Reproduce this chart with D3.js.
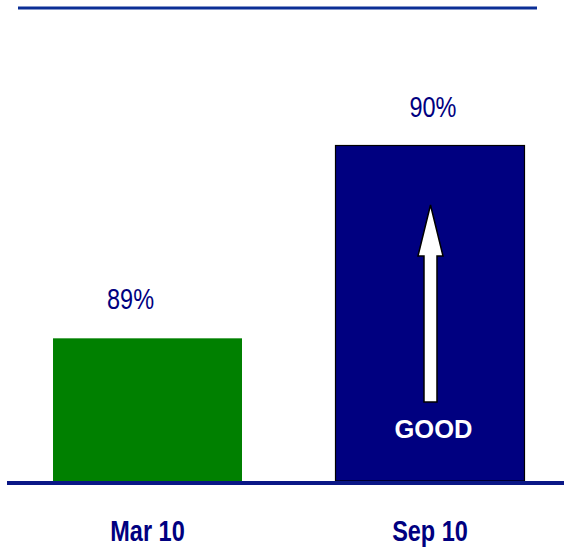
<!DOCTYPE html>
<html>
<head>
<meta charset="utf-8">
<script src="https://cdn.jsdelivr.net/npm/d3@7"></script>
<style>
  body { margin: 0; background: #fff; }
  svg { display: block; }
</style>
</head>
<body>
<div id="chart"></div>
<script>
// chart data
var categories = ['Mar 10', 'Sep 10'];
var values = [89, 90];
var value_labels = ['89%', '90%'];
var bar_colors = ['#008000', '#000080'];

const width = 564;
const height = 547;
const baseline_y = 481;
const navy = '#000080';
const label_shift = [-17, 3];
const narrow = 0.81; // no Arial Narrow here, squeeze Liberation Sans instead

var svg = d3.select('#chart').append('svg')
  .attr('width', width)
  .attr('height', height);

var x = d3.scaleBand()
  .domain(categories)
  .range([6.4, 571.1])
  .paddingInner(0.331)
  .paddingOuter(0.165);

var y = d3.scaleLinear()
  .domain([88.26, 90.5])
  .range([baseline_y, 49.1]);

// top rule
svg.append('line')
  .attr('x1', 18).attr('x2', 537)
  .attr('y1', 8).attr('y2', 8)
  .attr('stroke', '#0b2e96')
  .attr('stroke-width', 3);

// bars
svg.selectAll('rect.bar')
  .data(categories)
  .enter()
  .append('rect')
  .attr('class', 'bar')
  .attr('x', function(d) { return x(d); })
  .attr('y', function(d, i) { return y(values[i]); })
  .attr('width', x.bandwidth())
  .attr('height', function(d, i) { return baseline_y - y(values[i]); })
  .attr('fill', function(d, i) { return bar_colors[i]; })
  .attr('stroke', function(d, i) { return i == 1 ? '#000' : 'none'; })
  .attr('stroke-width', 1.2);

// baseline
svg.append('line')
  .attr('x1', 7).attr('x2', width)
  .attr('y1', baseline_y + 2).attr('y2', baseline_y + 2)
  .attr('stroke', '#0a1786')
  .attr('stroke-width', 4);

// value labels
svg.selectAll('text.value')
  .data(categories)
  .enter()
  .append('text')
  .attr('class', 'value')
  .attr('transform', function(d, i) {
    var tx = x(d) + x.bandwidth() / 2 + label_shift[i];
    var ty = y(values[i]) - 29;
    return `translate(${tx},${ty}) scale(${narrow},1)`;
  })
  .attr('text-anchor', 'middle')
  .attr('fill', navy)
  .style('font-family', '"Liberation Sans", Arial, sans-serif')
  .style('font-size', '29px')
  .text(function(d, i) { return value_labels[i]; });

// category labels
svg.selectAll('text.cat')
  .data(categories)
  .enter()
  .append('text')
  .attr('class', 'cat')
  .attr('transform', function(d) {
    return `translate(${x(d) + x.bandwidth() / 2},541) scale(${narrow},1)`;
  })
  .attr('text-anchor', 'middle')
  .attr('fill', navy)
  .style('font-family', '"Liberation Sans", Arial, sans-serif')
  .style('font-weight', 'bold')
  .style('font-size', '29px')
  .text(function(d) { return d; });

// GOOD arrow inside the second bar
var cx = x(categories[1]) + x.bandwidth() / 2 + 0.5;
var tip = 205, head_base = 256, shaft_bottom = 402;
var arrow = d3.path();
arrow.moveTo(cx, tip);
arrow.lineTo(cx + 12.5, head_base);
arrow.lineTo(cx + 6.5, head_base);
arrow.lineTo(cx + 6.5, shaft_bottom);
arrow.lineTo(cx - 6.5, shaft_bottom);
arrow.lineTo(cx - 6.5, head_base);
arrow.lineTo(cx - 12.5, head_base);
arrow.closePath();

svg.append('path')
  .attr('d', arrow.toString())
  .attr('fill', '#fff')
  .attr('stroke', '#000')
  .attr('stroke-width', 1.5);

svg.append('text')
  .attr('x', cx + 3)
  .attr('y', 438)
  .attr('text-anchor', 'middle')
  .attr('fill', '#fff')
  .style('font-family', '"Liberation Sans", Arial, sans-serif')
  .style('font-weight', 'bold')
  .style('font-size', '25.5px')
  .text('GOOD');
</script>
</body>
</html>
